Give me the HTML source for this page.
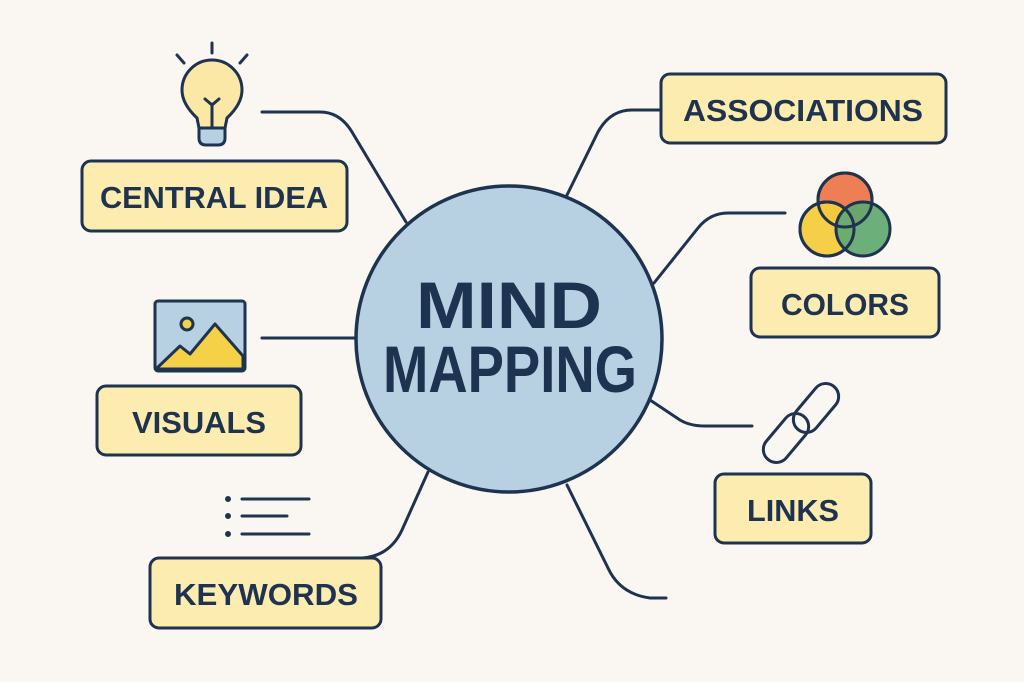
<!DOCTYPE html>
<html><head><meta charset="utf-8"><style>
html,body{margin:0;padding:0;background:#faf6f1;}
svg{display:block}
text{font-family:"Liberation Sans",sans-serif;font-weight:bold;fill:#1e3350;}
</style></head><body>
<svg width="1024" height="682" viewBox="0 0 1024 682" xmlns="http://www.w3.org/2000/svg">
<rect width="1024" height="682" fill="#faf6f1"/>
<g fill="none" stroke="#1e3350" stroke-width="3" stroke-linecap="round">
<path d="M262,112 H320 Q340,112 352,132 L406,222"/>
<path d="M262,338 H356"/>
<path d="M362,558 Q390,556 402,530 L428,472"/>
<path d="M660,110 H632 Q610,110 598,132 L567,195"/>
<path d="M785,213 H728 Q710,213 698,228 L654,283"/>
<path d="M650,400 L680,420 Q690,426 705,426 H752"/>
<path d="M567,485 L608,568 Q620,594 650,598 H666"/>
</g>
<circle cx="509" cy="339" r="153" fill="#b7d0e2" stroke="#1e3350" stroke-width="3.5"/>
<text x="509" y="328" font-size="66" text-anchor="middle" textLength="186" lengthAdjust="spacingAndGlyphs">MIND</text>
<text x="510" y="392" font-size="66" text-anchor="middle" textLength="254" lengthAdjust="spacingAndGlyphs">MAPPING</text>

<g fill="#fcecb0" stroke="#1e3350" stroke-width="3">
<rect x="82" y="161" width="265" height="70" rx="9"/>
<rect x="97" y="386" width="204" height="69" rx="9"/>
<rect x="150" y="558" width="231" height="70" rx="9"/>
<rect x="661" y="74" width="285" height="69" rx="9"/>
<rect x="751" y="268" width="188" height="69" rx="9"/>
<rect x="715" y="474" width="156" height="69" rx="9"/>
</g>
<text x="214" y="208" font-size="31" text-anchor="middle" textLength="228" lengthAdjust="spacingAndGlyphs">CENTRAL IDEA</text>
<text x="199" y="433" font-size="31" text-anchor="middle" textLength="134" lengthAdjust="spacingAndGlyphs">VISUALS</text>
<text x="266" y="605" font-size="31" text-anchor="middle" textLength="184" lengthAdjust="spacingAndGlyphs">KEYWORDS</text>
<text x="803" y="121" font-size="31" text-anchor="middle" textLength="240" lengthAdjust="spacingAndGlyphs">ASSOCIATIONS</text>
<text x="845" y="315" font-size="31" text-anchor="middle" textLength="128" lengthAdjust="spacingAndGlyphs">COLORS</text>
<text x="793" y="521" font-size="31" text-anchor="middle" textLength="92" lengthAdjust="spacingAndGlyphs">LINKS</text>

<g stroke="#1e3350" stroke-width="3" stroke-linecap="round" stroke-linejoin="round">
<line x1="212" y1="43" x2="212" y2="53"/>
<line x1="177" y1="55" x2="184" y2="63"/>
<line x1="247" y1="55" x2="240" y2="63"/>
<path d="M199,128 L197,118 Q182,104 182,90 A30,30 0 0 1 242,90 Q242,104 227,118 L225,128 Z" fill="#fbe7a6"/>
<path d="M199,128 H225 V138 Q225,145 218,145 H206 Q199,145 199,138 Z" fill="#b7d0e2"/>
<path d="M212,128 V104 M205,99 L212,105 L219,99" fill="none"/>
</g>

<g stroke="#1e3350" stroke-width="3" stroke-linejoin="round">
<rect x="155" y="301" width="90" height="70" rx="3" fill="#b7d0e2"/>
<path d="M157,368 L180,346 L190,354 L215,324 L243,356 V369 H157 Z" fill="#f5d147"/>
<circle cx="187" cy="324" r="6" fill="#f5d147"/>
</g>

<g stroke="#1e3350" stroke-width="3" stroke-linecap="round" fill="#1e3350">
<circle cx="228" cy="499" r="1.5"/><circle cx="228" cy="516" r="1.5"/><circle cx="228" cy="534" r="1.5"/>
<line x1="242" y1="499" x2="309" y2="499"/>
<line x1="242" y1="516" x2="287" y2="516"/>
<line x1="242" y1="534" x2="309" y2="534"/>
</g>

<g stroke="#1e3350" stroke-width="3">
<circle cx="845" cy="200" r="27" fill="#ee7f55"/>
<circle cx="827" cy="229" r="27" fill="#f4cd3d" fill-opacity="0.95"/>
<circle cx="863" cy="229" r="27" fill="#5fa871" fill-opacity="0.92"/>
<circle cx="845" cy="200" r="27" fill="none"/>
<circle cx="827" cy="229" r="27" fill="none"/>
</g>

<g fill="none" stroke="#1e3350" stroke-width="3">
<rect x="803" y="380" width="26" height="56" rx="13" transform="rotate(40 816 408)"/>
<rect x="773" y="410" width="26" height="56" rx="13" transform="rotate(40 786 438)"/>
</g>
</svg>
</body></html>
